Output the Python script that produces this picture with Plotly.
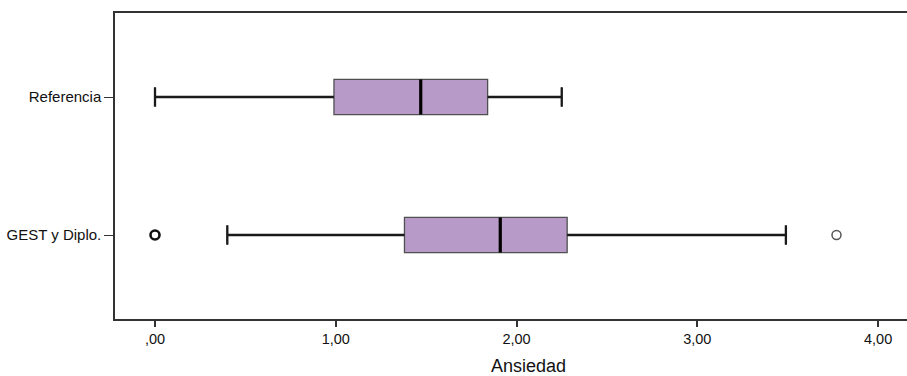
import plotly.graph_objects as go

groups = ["Referencia", "GEST y Diplo."]
ypos = [1, 0]
lowerfence = [0.00, 0.40]
q1 = [0.99, 1.38]
median = [1.47, 1.91]
q3 = [1.84, 2.28]
upperfence = [2.25, 3.49]

out_group = ["GEST y Diplo.", "GEST y Diplo."]
out_values = [0.00, 3.77]
out_extreme = [True, False]

xtick_vals = [0, 1, 2, 3, 4]
xtick_text = [",00", "1,00", "2,00", "3,00", "4,00"]
x_title = "Ansiedad"

BOXW = 0.254
CAP = 0.14
fig = go.Figure()
for g, y, lf, a, m, b, uf in zip(groups, ypos, lowerfence, q1, median, q3, upperfence):
    fig.add_trace(go.Box(
        y=[y], q1=[a], median=[m], q3=[b], lowerfence=[lf], upperfence=[uf],
        orientation="h", width=BOXW, whiskerwidth=CAP / BOXW,
        fillcolor="#B79AC8", line=dict(color="#505050", width=1.3),
        boxpoints=False, showlegend=False, name=g, hoverinfo="skip",
    ))
    fig.add_trace(go.Scatter(
        x=[lf, a, None, b, uf, None, lf, lf, None, uf, uf],
        y=[y, y, None, y, y, None, y - CAP / 2, y + CAP / 2, None, y - CAP / 2, y + CAP / 2],
        mode="lines", line=dict(color="#1a1a1a", width=2.3),
        showlegend=False, hoverinfo="skip",
    ))
    fig.add_trace(go.Scatter(
        x=[m, m], y=[y - BOXW / 2, y + BOXW / 2], mode="lines",
        line=dict(color="#000000", width=3.2), showlegend=False, hoverinfo="skip",
    ))

for g, v, ext in zip(out_group, out_values, out_extreme):
    y = ypos[groups.index(g)]
    fig.add_trace(go.Scatter(
        x=[v], y=[y], mode="markers", showlegend=False, hoverinfo="skip",
        marker=dict(symbol="circle-open", size=9,
                    line=dict(color="#111111" if ext else "#555555", width=2.6 if ext else 1.5),
                    color="#111111" if ext else "#555555"),
    ))

fig.add_annotation(
    text=x_title, x=2.064, xref="x", y=-0.155, yref="paper",
    showarrow=False, xanchor="center", yanchor="middle",
    font=dict(size=18, color="#111111"),
)

fig.update_layout(
    width=907, height=376,
    margin=dict(l=115, r=0, t=13, b=57),
    plot_bgcolor="white", paper_bgcolor="white",
    font=dict(family="Liberation Sans, Arial, sans-serif", color="#111111", size=15),
)
fig.update_xaxes(
    range=[-0.2213, 4.160], tickvals=xtick_vals, ticktext=xtick_text,
    ticks="outside", ticklen=6, tickwidth=1.5, tickcolor="#333333",
    showline=True, linecolor="#333333", linewidth=1.5, mirror=True,
    showgrid=False, zeroline=False, tickfont=dict(size=14.5),
)
fig.update_yaxes(
    range=[-0.6087, 1.6087], tickvals=ypos, ticktext=groups,
    ticks="outside", ticklen=9, tickwidth=1, tickcolor="#333333",
    ticklabelstandoff=0,
    showline=True, linecolor="#333333", linewidth=1.5,
    showgrid=False, zeroline=False, tickfont=dict(size=15),
)
fig.write_html("out.html")
